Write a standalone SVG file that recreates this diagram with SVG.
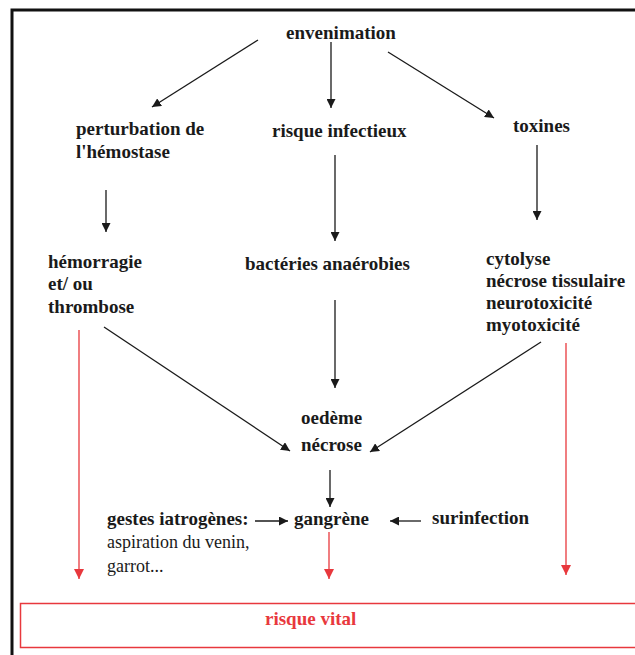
<svg xmlns="http://www.w3.org/2000/svg" width="635" height="655" viewBox="0 0 635 655">
<defs>
<style>
.t{font-family:'Liberation Serif','Times New Roman',serif;font-size:19px;font-weight:bold;fill:#1a1a1a}
.r{font-weight:normal;font-size:18px}
.red{fill:#e8383d}
.c{stroke:#1a1a1a;stroke-width:1.3;fill:none}
.cr{stroke:#e8383d;stroke-width:1.3;fill:none}
</style>
<marker id="ab" viewBox="0 0 10 10" refX="10" refY="5" markerWidth="9" markerHeight="9" markerUnits="userSpaceOnUse" orient="auto"><path d="M0,0 L10,5 L0,10 z" fill="#1a1a1a"/></marker>
<marker id="ar" viewBox="0 0 10 10" refX="10" refY="5" markerWidth="10" markerHeight="10" markerUnits="userSpaceOnUse" orient="auto"><path d="M0,0 L10,5 L0,10 z" fill="#e8383d"/></marker>
</defs>
<rect width="635" height="655" fill="#fff"/>
<g id="frame"><path d="M12,655 V10 H635" stroke="#111" stroke-width="3" fill="none"/></g>
<g id="connectors">
<line class="c" x1="258" y1="40" x2="152" y2="107" marker-end="url(#ab)"/>
<line class="c" x1="331" y1="42" x2="331" y2="108" marker-end="url(#ab)"/>
<line class="c" x1="388" y1="52" x2="494" y2="118" marker-end="url(#ab)"/>
<line class="c" x1="106" y1="190" x2="106" y2="232" marker-end="url(#ab)"/>
<line class="c" x1="335" y1="155" x2="335" y2="241" marker-end="url(#ab)"/>
<line class="c" x1="537" y1="145" x2="537" y2="220" marker-end="url(#ab)"/>
<line class="c" x1="104" y1="327" x2="290" y2="451" marker-end="url(#ab)"/>
<line class="c" x1="335" y1="300" x2="335" y2="388" marker-end="url(#ab)"/>
<line class="c" x1="541" y1="342" x2="370" y2="452" marker-end="url(#ab)"/>
<line class="c" x1="330" y1="470" x2="330" y2="507" marker-end="url(#ab)"/>
<line class="c" x1="255" y1="521" x2="288" y2="521" marker-end="url(#ab)"/>
<line class="c" x1="421" y1="521" x2="390" y2="521" marker-end="url(#ab)"/>
<line class="cr" x1="79" y1="330" x2="79" y2="579" marker-end="url(#ar)"/>
<line class="cr" x1="329" y1="532" x2="329" y2="579" marker-end="url(#ar)"/>
<line class="cr" x1="566" y1="343" x2="566" y2="575" marker-end="url(#ar)"/>
</g>
<g id="envenimation"><text class="t" x="341" y="39" text-anchor="middle">envenimation</text></g>
<g id="hemostase"><text class="t" x="76" y="135">perturbation de</text><text class="t" x="76" y="158">l'hémostase</text></g>
<g id="risque-infectieux"><text class="t" x="272" y="137">risque infectieux</text></g>
<g id="toxines"><text class="t" x="513" y="132">toxines</text></g>
<g id="hemorragie"><text class="t" x="48" y="268">hémorragie</text><text class="t" x="48" y="290">et/ ou</text><text class="t" x="48" y="313">thrombose</text></g>
<g id="bacteries"><text class="t" x="245" y="270">bactéries anaérobies</text></g>
<g id="cytolyse"><text class="t" x="486" y="265">cytolyse</text><text class="t" x="486" y="287">nécrose tissulaire</text><text class="t" x="486" y="309">neurotoxicité</text><text class="t" x="486" y="331">myotoxicité</text></g>
<g id="oedeme"><text class="t" x="301" y="424">oedème</text><text class="t" x="301" y="451">nécrose</text></g>
<g id="gestes"><text class="t" x="107" y="525">gestes iatrogènes:</text><text class="t r" x="107" y="548">aspiration du venin,</text><text class="t r" x="107" y="572">garrot...</text></g>
<g id="gangrene"><text class="t" x="294" y="525">gangrène</text></g>
<g id="surinfection"><text class="t" x="432" y="524">surinfection</text></g>
<g id="risque-vital"><rect x="20.5" y="603.5" width="630" height="44" fill="none" stroke="#e8383d" stroke-width="1.5"/><text class="t red" x="265" y="625">risque vital</text></g>
</svg>
